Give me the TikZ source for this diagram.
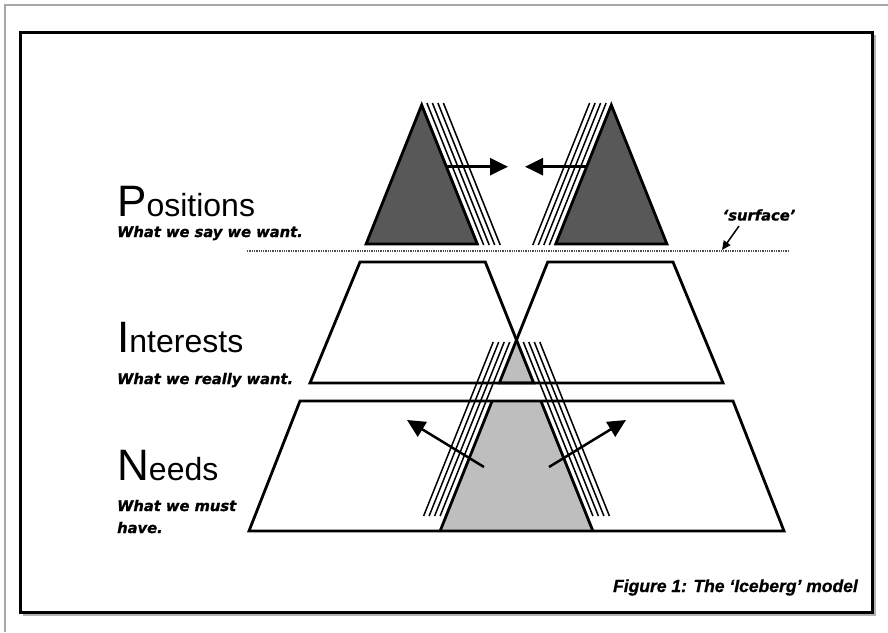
\documentclass[tikz,border=0pt]{standalone}
\usepackage{fontspec}
\setmainfont{Liberation Sans}
\newfontfamily\subfont[FakeBold=1.2]{DejaVu Sans}
\newfontfamily\capfont[FakeBold=0.8]{Liberation Sans}
\usetikzlibrary{arrows.meta}
\definecolor{darkberg}{HTML}{585858}
\definecolor{lightberg}{HTML}{BEBEBE}
\definecolor{framegray}{HTML}{A8A8A8}
\definecolor{surfgray}{HTML}{505050}
\tikzset{
  outline/.style={line width=2.8pt, line join=miter},
  hatch/.style={line width=1.5pt},
  bigarrow/.style={line width=2.5pt, -{Triangle[length=18pt,width=17pt]}},
  smallarrow/.style={line width=1.5pt, -{Triangle[length=9pt,width=8pt]}},
  title/.style={anchor=base west, inner sep=0pt},
  sub/.style={anchor=base west, inner sep=0pt, font=\subfont\bfseries\itshape\fontsize{14.7}{17}\selectfont},
}
\newcommand{\bigfirst}[2]{{\fontsize{44}{44}\selectfont #1}{\fontsize{32}{32}\selectfont #2}}
\begin{document}
\begin{tikzpicture}[x=1pt,y=-1pt]
\useasboundingbox (0,0) rectangle (888,632);
% frames
\draw[framegray, line width=1.5pt] (5,632) -- (5,5) -- (888,5);
\draw[black!30, line width=2pt] (875,35) -- (875,615) -- (23,615);
\draw[line width=3pt] (20,32) rectangle (872.5,612);

% light gray iceberg parts
\fill[lightberg] (516.5,340) -- (499.3,383) -- (533.7,383) -- cycle;
\fill[lightberg] (492.1,401) -- (440.1,531) -- (592.9,531) -- (540.9,401) -- cycle;

% Interests trapezoids
\draw[outline] (310,383) -- (360,262) -- (485.3,262) -- (533.7,383) -- cycle;
\draw[outline] (499.3,383) -- (547.7,262) -- (673,262) -- (723,383) -- cycle;
% Needs trapezoid
\draw[outline] (249,531) -- (300,401) -- (733,401) -- (784,531) -- cycle;
\draw[outline] (492.1,401) -- (440.1,531);
\draw[outline] (540.9,401) -- (592.9,531);

% Positions triangles
\draw[outline, fill=darkberg] (366.1,244) -- (421.7,105) -- (477.3,244) -- cycle;
\draw[outline, fill=darkberg] (555.7,244) -- (611.3,105) -- (666.9,244) -- cycle;

% hatching
\foreach \o in {6,11.5,17,22.5}{
  \draw[hatch] ({421.7+0.4*(103-105)+\o},103) -- ({421.7+0.4*(245-105)+\o},245);
  \draw[hatch] ({611.3-0.4*(103-105)-\o},103) -- ({611.3-0.4*(245-105)-\o},245);
  \draw[hatch] ({516.5-0.4*(342-340)-\o},342) -- ({516.5-0.4*(516-340)-\o},516);
  \draw[hatch] ({516.5+0.4*(342-340)+\o},342) -- ({516.5+0.4*(516-340)+\o},516);
}

% arrows
\coordinate (pl) at (446.4,166.7);
\coordinate (plt) at (508,166.7);
\coordinate (pr) at (586.6,166.7);
\coordinate (prt) at (525,166.7);
\draw[bigarrow] (pl) -- (plt);
\draw[bigarrow] (pr) -- (prt);
\coordinate (nl) at (484,467);
\coordinate (nlt) at (407,420);
\coordinate (nr) at (549,467);
\coordinate (nrt) at (626,420);
\draw[bigarrow] (nl) -- (nlt);
\draw[bigarrow] (nr) -- (nrt);

% surface
\draw[surfgray, line width=2.4pt, dash pattern=on 1.3pt off 1pt] (247,251) -- (788,251);
\node[inner sep=0pt, font=\subfont\bfseries\itshape\fontsize{14.7}{17}\selectfont] (surf) at (759,215) {‘surface’};
\coordinate (surfend) at (722,250);
\draw[smallarrow] (739,226) -- (surfend);

% texts
\node[title] (pos) at (117,216) {\bigfirst{P}{ositions}};
\node[sub] (possub) at (117,237) {What we say we want.};
\node[title] (int) at (117,352) {\bigfirst{I}{nterests}};
\node[sub] (intsub) at (117,384) {What we really want.};
\node[title] (need) at (117,480) {\bigfirst{N}{eeds}};
\node[sub] (needsub1) at (117,511) {What we must};
\node[sub] (needsub2) at (117,533) {have.};
\node[anchor=base east, inner sep=0pt, font=\capfont\bfseries\itshape\fontsize{17.5}{20}\selectfont] (cap) at (858,592) {Figure 1: The ‘Iceberg’ model};
\end{tikzpicture}
\end{document}
